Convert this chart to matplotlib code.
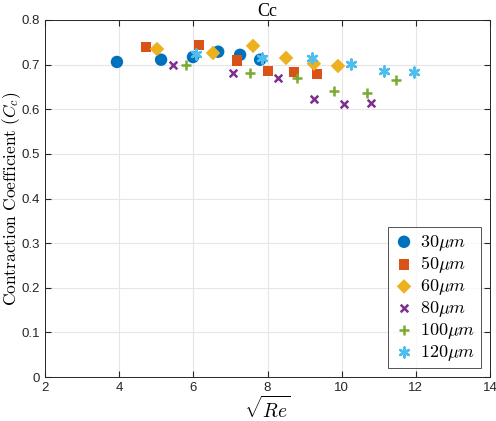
"""Contraction coefficient vs sqrt(Re) for several channel widths."""

import matplotlib

matplotlib.use("Agg")
import matplotlib.pyplot as plt

# data
x_30 = [3.94, 5.13, 5.99, 6.67, 7.26, 7.80]
y_30 = [0.706, 0.711, 0.717, 0.729, 0.722, 0.711]
x_50 = [4.72, 6.15, 7.18, 8.01, 8.72, 9.34]
y_50 = [0.740, 0.744, 0.709, 0.686, 0.684, 0.679]
x_60 = [5.02, 6.53, 7.61, 8.50, 9.25, 9.90]
y_60 = [0.735, 0.726, 0.742, 0.715, 0.702, 0.697]
x_80 = [5.45, 7.07, 8.28, 9.25, 10.06, 10.79]
y_80 = [0.700, 0.682, 0.670, 0.623, 0.612, 0.614]
x_100 = [5.80, 7.53, 8.80, 9.79, 10.68, 11.47]
y_100 = [0.700, 0.682, 0.670, 0.641, 0.636, 0.666]
x_120 = [6.07, 7.85, 9.20, 10.25, 11.14, 11.95]
y_120 = [0.724, 0.715, 0.715, 0.702, 0.686, 0.684]
labels = [r"$30\mu m$", r"$50\mu m$", r"$60\mu m$", r"$80\mu m$", r"$100\mu m$", r"$120\mu m$"]

plt.rcParams["mathtext.fontset"] = "cm"
plt.rcParams["font.family"] = "Liberation Sans"

series = [(x_30, y_30), (x_50, y_50), (x_60, y_60), (x_80, y_80), (x_100, y_100), (x_120, y_120)]
colors = ["#0072BD", "#D95319", "#EDB120", "#7E2F8E", "#77AC30", "#4DBEEE"]
markers = ["o", "s", "D", "x", "+", (6, 2, 0)]
sizes = [80, 55, 55, 30, 50, 50]
widths = [0, 0, 0, 1.8, 1.8, 1.8]

fig = plt.figure(figsize=(4.96, 4.21), dpi=100)
ax = fig.add_axes([0.0907, 0.1045, 0.8973, 0.848])

for (xs, ys), col, mk, sz, lw, lab in zip(series, colors, markers, sizes, widths, labels):
    if lw:
        ax.scatter(xs, ys, s=sz, marker=mk, color=col, linewidths=lw, label=lab, zorder=3)
    else:
        ax.scatter(xs, ys, s=sz, marker=mk, color=col, edgecolors="none", label=lab, zorder=3)

ax.set_xlim(2, 14)
ax.set_ylim(0, 0.8)
ax.set_xticks(range(2, 15, 2))
ax.set_yticks([i / 10 for i in range(9)])
ax.set_yticklabels(["0"] + [f"{i / 10:.1f}" for i in range(1, 9)])
ax.grid(color="#e6e6e6", linewidth=0.8)
ax.set_axisbelow(True)
ax.tick_params(direction="in", length=4, labelsize=9.5, colors="#262626", top=True, right=True)
for side in ax.spines.values():
    side.set_color("#262626")
    side.set_linewidth(0.7)

ax.set_xlabel(r"$\sqrt{Re}$", fontsize=14, labelpad=1)
ax.set_ylabel(r"$\mathrm{Contraction\ Coefficient}\ (C_c)$", fontsize=12.5, labelpad=-1)
ax.set_title("Cc", fontsize=13, family="Liberation Serif", pad=3)

leg = ax.legend(loc="lower right", fontsize=13, frameon=True, fancybox=False,
                borderpad=0.3, labelspacing=0.1, handletextpad=0.3, handlelength=1.2,
                borderaxespad=0.5)
leg.get_frame().set_edgecolor("#262626")
leg.get_frame().set_linewidth(0.7)

fig.savefig("out.png", dpi=100)
